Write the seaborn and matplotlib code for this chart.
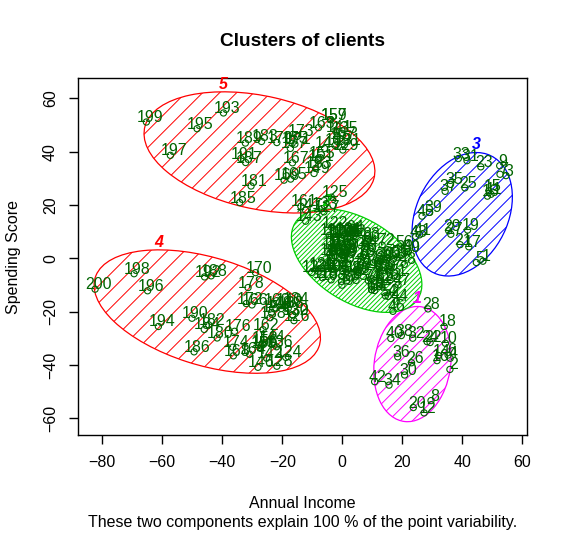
import numpy as np
import pandas as pd
import matplotlib
matplotlib.use("Agg")
import matplotlib.pyplot as plt
from matplotlib.patches import Ellipse
import seaborn as sns

# point coordinates on the two components, customer ids 1..200
comp1 = [46.9, 35.9, 54.6, 36.0, 44.7, 35.3, 52.6, 29.6, 52.5, 34.4,
         49.6, 27.3, 48.4, 32.1, 48.9, 31.6, 42.2, 34.0, 41.8, 23.7,
         39.3, 29.3, 46.2, 28.3, 40.9, 23.1, 36.2, 28.6, 35.5, 20.8,
         41.6, 23.5, 38.7, 15.6, 36.1, 18.5, 34.3, 19.7, 29.1, 16.2,
         25.8, 10.8, 24.5, 18.0, 26.6, 16.9, 18.6, 20.7, 22.0, 22.0,
         17.4, 15.3, 15.9, 14.4, 18.3, 19.4, 16.0, 17.1, 13.8, 15.2,
         12.5, 12.8, 12.6, 10.8, 11.9, 9.8, 12.2, 12.7, 9.8, 13.0,
         9.9, 13.3, 10.5, 8.7, 7.2, 5.3, 5.6, 6.9, 5.9, 8.5,
         6.1, 5.1, 8.7, 7.9, 4.6, 7.4, 1.4, 2.2, -0.1, 3.6,
         0.2, 3.9, 0.9, 3.2, 2.7, 0.1, 1.4, 0.6, 1.7, -0.1,
         1.0, -0.8, -3.7, -2.7, -2.9, 0.8, -2.3, -1.3, -0.5, -1.8,
         -2.8, -3.4, -1.2, -2.2, -3.7, -4.2, -2.4, -6.6, -4.3, -8.0,
         -7.7, -3.5, -10.2, -18.8, -3.6, -16.1, -6.1, -21.8, 0.2, -16.6,
         0.7, -16.6, -6.8, -16.5, -0.2, -21.9, -0.7, -18.0, -2.4, -18.7,
         -2.1, -25.2, -12.2, -24.5, -5.9, -28.1, -12.2, -22.1, -9.4, -27.3,
         -8.1, -26.7, -8.9, -23.6, -7.9, -27.0, -3.9, -24.1, -3.9, -22.8,
         -13.8, -26.4, -7.9, -30.9, -17.2, -30.1, -16.6, -36.3, -19.4, -28.9,
         -15.8, -32.0, -15.0, -36.5, -16.7, -35.9, -17.3, -31.4, -21.8, -41.7,
         -30.4, -44.5, -26.9, -46.0, -34.2, -49.4, -32.2, -43.7, -32.3, -50.1,
         -33.8, -45.9, -39.6, -61.3, -48.4, -64.9, -57.3, -69.4, -65.3, -82.4]
comp2 = [-1.1, -41.7, 31.0, -37.5, -1.6, -36.3, 31.5, -53.4, 34.7, -31.9,
         24.0, -58.0, 23.3, -36.5, 25.3, -38.4, 4.3, -25.6, 10.6, -56.0,
         5.1, -31.6, 34.3, -31.3, 26.4, -39.2, 9.0, -19.0, 10.3, -43.8,
         36.6, -30.0, 37.4, -47.6, 27.7, -37.0, 25.1, -29.0, 17.2, -30.1,
         8.8, -46.3, 8.1, -16.1, 15.8, -19.9, -10.0, -2.3, 2.5, 2.5,
         -6.6, -14.3, -8.3, -14.1, 0.4, 4.3, -4.2, -0.3, -4.6, 0.2,
         -9.4, -8.5, -5.3, -12.1, -4.1, -11.8, -3.1, -1.2, -11.8, -0.2,
         -7.7, 4.9, -1.6, -8.4, 1.4, -5.4, -4.4, 0.4, -3.5, 6.2,
         -2.5, -6.4, 7.2, 4.3, -8.3, 2.3, -8.5, -5.6, -10.1, 3.4,
         -5.0, 8.5, 1.0, 9.7, 7.8, -1.9, 2.9, 0.0, 8.0, 1.3,
         9.2, 2.5, -8.1, -4.3, -5.2, 8.3, 0.8, 4.7, 7.6, 2.8,
         -1.1, -3.0, 8.8, 5.0, 3.3, 1.4, 8.1, -7.3, 8.6, -4.9,
         -3.9, 11.5, -5.3, -37.2, 22.9, -23.4, 17.4, -40.5, 40.6, -21.2,
         42.5, -21.2, 18.6, -17.1, 46.9, -33.2, 44.9, -18.8, 42.3, -17.5,
         47.4, -37.5, 13.9, -31.5, 41.2, -40.9, 18.0, -18.7, 31.8, -33.8,
         36.6, -31.9, 33.7, -20.3, 37.6, -32.9, 52.0, -22.3, 52.0, -17.4,
         19.5, -26.8, 49.0, -36.0, 29.7, -17.5, 35.8, -36.6, 29.3, -5.4,
         42.8, -17.0, 45.7, -33.4, 43.1, -27.4, 41.2, -11.0, 43.4, -29.9,
         27.1, -25.0, 43.8, -26.7, 20.9, -35.1, 35.9, -6.6, 43.2, -22.5,
         37.4, -7.0, 54.5, -25.6, 48.6, -12.2, 38.6, -5.8, 51.1, -11.6]
point_ids = [str(i) for i in range(1, 201)]

# cluster ellipses: centre, half axes, angle (deg)
cluster_names = ["1", "2", "3", "4", "5"]
cluster_colors = ["#FF00FF", "#00CD00", "#0000FF", "#FF0000", "#FF0000"]
ell_cx = [23.4, 4.8, 40.0, -45.0, -27.6]
ell_cy = [-39.7, -0.9, 16.5, -20.0, 39.7]
ell_a = [21.7, 25.0, 24.0, 39.5, 39.4]
ell_b = [12.74, 15.0, 15.5, 20.0, 21.1]
ell_angle = [83.4, -38.0, 70.0, -20.0, -14.7]
hatch_px = [12.0, 4.7, 13.0, 17.0, 17.0]

df = pd.DataFrame({"pc1": comp1, "pc2": comp2, "id": point_ids})

sns.set_style("white")
plt.rcParams["font.family"] = ["Liberation Sans", "DejaVu Sans"]
plt.rcParams["text.color"] = "black"
plt.rcParams["axes.labelcolor"] = "black"
plt.rcParams["xtick.color"] = "black"
plt.rcParams["ytick.color"] = "black"

W, H = 568, 533
fig = plt.figure(figsize=(W / 100, H / 100), dpi=100)
left, right, top, bottom = 78.3, 527.3, 78.3, 435.0
ax = fig.add_axes([left / W, 1 - bottom / H, (right - left) / W, (bottom - top) / H])

xlim = (-88.0, 61.7)
ylim = (-66.3, 67.5)
ax.set_xlim(xlim)
ax.set_ylim(ylim)

# slope giving 45 degrees on screen
px_x = (right - left) / (xlim[1] - xlim[0])
px_y = (bottom - top) / (ylim[1] - ylim[0])
k = px_x / px_y

for i in range(len(cluster_names)):
    cx, cy, a, b, ang = ell_cx[i], ell_cy[i], ell_a[i], ell_b[i], ell_angle[i]
    col = cluster_colors[i]
    ell = Ellipse((cx, cy), 2 * a, 2 * b, angle=ang, fill=False,
                  edgecolor=col, linewidth=0.9, zorder=2)
    ax.add_patch(ell)
    step = hatch_px[i] / px_x
    span = 3 * a
    L = 2 * a
    for t in np.arange(-span, span, step):
        x0 = cx + t
        ln, = ax.plot([x0 - L, x0 + L], [cy - k * L, cy + k * L],
                      color=col, linewidth=0.7, zorder=1)
        ln.set_clip_path(ell)
    # cluster number at the top of the ellipse
    th = np.deg2rad(ang)
    ytop = np.sqrt(a**2 * np.sin(th)**2 + b**2 * np.cos(th)**2)
    xoff = (a**2 - b**2) * np.sin(th) * np.cos(th) / ytop
    ax.text(cx + xoff, cy + ytop, cluster_names[i], color=col, fontsize=11.5,
            fontweight="bold", fontstyle="italic", ha="center", va="bottom", zorder=4)

sns.scatterplot(data=df, x="pc1", y="pc2", ax=ax, s=20, marker="o",
                facecolor="none", edgecolor="#006400", linewidth=0.8, zorder=3)

for x, y, lbl in zip(df["pc1"], df["pc2"], df["id"]):
    ax.annotate(lbl, (x, y), xytext=(2.4, 0), textcoords="offset points",
                ha="center", va="baseline", fontsize=11.5, color="#006400", zorder=5)

ax.set_xticks([-80, -60, -40, -20, 0, 20, 40, 60])
ax.set_yticks([-60, -40, -20, 0, 20, 40, 60])
ax.tick_params(axis="both", direction="out", length=6.7, width=1, colors="black",
               labelsize=11.5, pad=8, bottom=True, left=True)
for lab in ax.get_yticklabels():
    lab.set_rotation(90)
    lab.set_va("center")
for sp in ax.spines.values():
    sp.set_color("black")
    sp.set_linewidth(1)
ax.set_xlabel("")
ax.set_ylabel("")

fig.text(302.8 / W, 1 - 41 / H, "Clusters of clients", ha="center", va="center",
         fontsize=13.7, fontweight="bold", color="black")
fig.text(302.8 / W, 1 - 503 / H, "Annual Income", ha="center", va="center",
         fontsize=11.5, color="black")
fig.text(302.8 / W, 1 - 523 / H,
         "These two components explain 100 % of the point variability.",
         ha="center", va="center", fontsize=11.5, color="black")
fig.text(14 / W, 1 - 256.7 / H, "Spending Score", ha="center", va="center",
         rotation=90, fontsize=11.5, color="black")

fig.savefig("out.png", dpi=100, facecolor="white")
